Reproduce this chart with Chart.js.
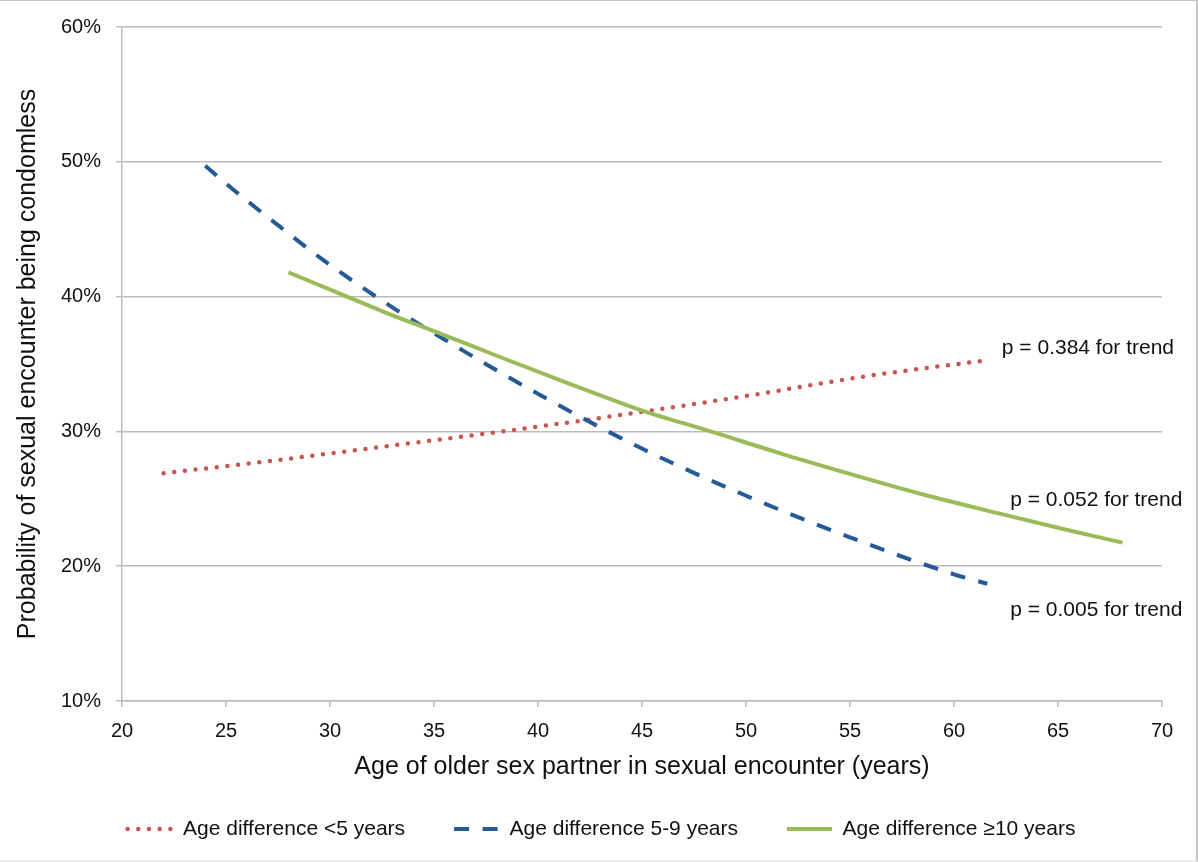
<!DOCTYPE html>
<html>
<head>
<meta charset="utf-8">
<script src="https://cdn.jsdelivr.net/npm/chart.js@4.4.1/dist/chart.umd.min.js"></script>
<style>
  html, body { margin: 0; padding: 0; background: #fff; }
  #wrap { position: relative; width: 1198px; height: 862px; }
  #frame {
    position: absolute; left: 0; top: 0; width: 1196px; height: 859px;
    border-top: 1px solid #c6c6c6; border-right: 2px solid #c4c4c4; border-bottom: 2px solid #ececec;
    pointer-events: none;
  }
</style>
</head>
<body>
<div id="wrap">
  <canvas id="chart" width="1198" height="862"></canvas>
  <div id="frame"></div>
</div>
<script>
// age of older partner (years) and probability (%)
const ageLow  = [22.0, 27.1, 32.7, 38.3, 43.0, 49.9, 55.8, 61.7];
const probLow = [26.9, 27.8, 28.9, 30.0, 31.0, 32.6, 34.1, 35.3];

const ageMid  = [24.0, 25.3, 27.5, 29.6, 33.0, 36.5, 40.1, 44.9, 49.9, 54.9, 60.0, 61.6];
const probMid = [49.7, 48.0, 45.3, 42.8, 39.2, 35.9, 32.7, 28.8, 25.3, 22.2, 19.4, 18.7];

const ageHigh  = [28.0, 30.5, 32.7, 35.4, 38.2, 41.4, 44.9, 48.3, 51.8, 55.0, 58.2, 62.2, 65.4, 68.1];
const probHigh = [41.8, 40.2, 38.8, 37.2, 35.5, 33.6, 31.6, 30.0, 28.3, 26.85, 25.45, 23.9, 22.7, 21.75];

const seriesLabels = ['Age difference <5 years', 'Age difference 5-9 years', 'Age difference ≥10 years'];

const xTicks = [20, 25, 30, 35, 40, 45, 50, 55, 60, 65, 70];
const yTicks = [10, 20, 30, 40, 50, 60];

const trendNotes = ['p = 0.384 for trend', 'p = 0.052 for trend', 'p = 0.005 for trend'];
const noteAge  = [62.3, 62.7, 62.7];
const noteProb = [36.2, 24.9, 16.75];

const FONT = '"Liberation Sans", Arial, Helvetica, sans-serif';
const gridColor = '#bcbcbc';
const textColor = '#111';

Chart.defaults.font.family = FONT;
Chart.defaults.color = textColor;

function makeSet(label, ages, probs, style) {
    return Object.assign({
        label: label,
        data: ages.map((a, i) => ({ x: a, y: probs[i] })),
        pointRadius: 0,
        pointHoverRadius: 0,
        fill: false,
        cubicInterpolationMode: 'monotone',
    }, style);
}

const datasets = [
    makeSet(seriesLabels[0], ageLow, probLow, {
        borderColor: '#c9534d', borderWidth: 4.5, borderDash: [0, 10.7], borderCapStyle: 'round', order: 2,
    }),
    makeSet(seriesLabels[1], ageMid, probMid, {
        borderColor: '#245a97', borderWidth: 4, borderDash: [15, 13.5], borderCapStyle: 'butt', order: 1,
    }),
    makeSet(seriesLabels[2], ageHigh, probHigh, {
        borderColor: '#9bbb59', borderWidth: 4, borderCapStyle: 'butt', order: 0,
    }),
];

// "p = ... for trend" notes placed through the scales
const trendNotesPlugin = {
    id: 'trendNotes',
    afterDatasetsDraw(chart) {
        const { ctx, scales: { x, y } } = chart;
        ctx.save();
        ctx.font = '21px ' + FONT;
        ctx.fillStyle = textColor;
        ctx.textAlign = 'left';
        ctx.textBaseline = 'middle';
        trendNotes.forEach((t, i) => {
            ctx.fillText(t, x.getPixelForValue(noteAge[i]), y.getPixelForValue(noteProb[i]));
        });
        ctx.restore();
    }
};

new Chart(document.getElementById('chart'), {
    type: 'line',
    data: { datasets: datasets },
    plugins: [trendNotesPlugin],
    options: {
        responsive: false,
        animation: false,
        layout: { padding: { left: 41, right: 36, top: 25, bottom: 12.5 } },
        scales: {
            x: {
                type: 'linear',
                min: 20,
                max: 70,
                afterBuildTicks: s => { s.ticks = xTicks.map(v => ({ value: v })); },
                afterFit: s => { s.height = 68.5; },
                grid: { drawOnChartArea: false, drawTicks: true, tickLength: 6, color: gridColor, lineWidth: 1.5 },
                border: { display: true, color: gridColor, width: 1.5 },
                ticks: { padding: 12, maxRotation: 0, font: { size: 20 }, color: textColor },
                title: {
                    display: true,
                    text: 'Age of older sex partner in sexual encounter (years)',
                    font: { size: 25 },
                    color: textColor,
                    padding: { top: 0, bottom: -12.5 },
                },
            },
            y: {
                min: 10,
                max: 60,
                afterBuildTicks: s => { s.ticks = yTicks.map(v => ({ value: v })); },
                afterFit: s => { s.width = 81; },
                grid: { color: gridColor, lineWidth: 1.5, tickLength: 6 },
                border: { display: true, color: gridColor, width: 1.5 },
                ticks: { padding: 15, font: { size: 20 }, color: textColor, callback: v => v + '%' },
                title: {
                    display: true,
                    text: 'Probability of sexual encounter being condomless',
                    font: { size: 25 },
                    color: textColor,
                    padding: { top: -28, bottom: 0 },
                },
            },
        },
        plugins: {
            legend: {
                position: 'bottom',
                labels: {
                    usePointStyle: true,
                    pointStyleWidth: 45,
                    padding: 49,
                    font: { size: 21 },
                    color: textColor,
                    generateLabels: chart => chart.data.datasets.map((ds, i) => ({
                        text: ds.label,
                        datasetIndex: i,
                        pointStyle: 'line',
                        strokeStyle: ds.borderColor,
                        fillStyle: ds.borderColor,
                        lineWidth: ds.borderWidth,
                        lineDash: ds.borderDash || [],
                        lineCap: ds.borderCapStyle,
                        fontColor: textColor,
                        hidden: false,
                    })),
                },
            },
            tooltip: { enabled: false },
        },
    },
});
</script>
</body>
</html>
